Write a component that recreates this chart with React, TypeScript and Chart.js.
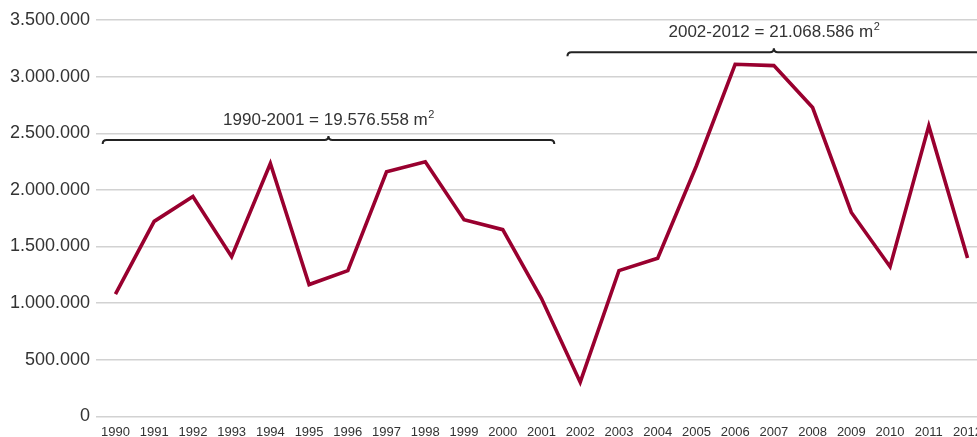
import React, { useEffect, useRef } from "react";
import { Chart, registerables } from "chart.js";

Chart.register(...registerables);

const years = ["1990","1991","1992","1993","1994","1995","1996","1997","1998","1999","2000","2001","2002","2003","2004","2005","2006","2007","2008","2009","2010","2011","2012"];
const area = [1080000,1722000,1942000,1410000,2233000,1164000,1287000,2160000,2248000,1737000,1649000,1040000,302000,1287000,1396000,2213000,3109000,3097000,2727000,1801000,1322000,2565000,1399000];
const yTicks = [0,500000,1000000,1500000,2000000,2500000,3000000,3500000];

const braceStart = ["1990", "2002"];
const braceEnd = ["2001", "2012"];
const braceLevel = [2440000, 3215000];
const braceText = ["1990-2001 = 19.576.558 m", "2002-2012 = 21.068.586 m"];

const fmt = (v: number) => String(v).replace(/\B(?=(\d{3})+(?!\d))/g, ".");

const FONT = "'Liberation Sans', Arial, sans-serif";

const bracePlugin = {
  id: "braces",
  afterDatasetsDraw(chart: any) {
    const ctx = chart.ctx;
    const xs = chart.scales.x;
    const ys = chart.scales.y;
    const half = (xs.getPixelForValue(1) - xs.getPixelForValue(0)) / 2;
    for (let i = 0; i < braceStart.length; i++) {
      const x1 = xs.getPixelForValue(years.indexOf(braceStart[i])) - half * 0.66;
      const x2 = xs.getPixelForValue(years.indexOf(braceEnd[i])) + half * 0.66;
      const y = ys.getPixelForValue(braceLevel[i]);
      const xm = (x1 + x2) / 2;
      const h = 4;
      const p = 4;
      ctx.save();
      ctx.strokeStyle = "#222";
      ctx.lineWidth = 2;
      ctx.beginPath();
      ctx.moveTo(x1, y + h);
      ctx.quadraticCurveTo(x1, y, x1 + h, y);
      ctx.lineTo(xm - p, y);
      ctx.quadraticCurveTo(xm, y, xm, y - p);
      ctx.quadraticCurveTo(xm, y, xm + p, y);
      ctx.lineTo(x2 - h, y);
      ctx.quadraticCurveTo(x2, y, x2, y + h);
      ctx.stroke();
      ctx.fillStyle = "#333";
      ctx.textBaseline = "alphabetic";
      const main = braceText[i];
      ctx.font = "17px " + FONT;
      const w1 = ctx.measureText(main).width;
      ctx.font = "11px " + FONT;
      const w2 = ctx.measureText("2").width;
      const tx = xm - (w1 + w2) / 2;
      const ty = y - 15;
      ctx.font = "17px " + FONT;
      ctx.textAlign = "left";
      ctx.fillText(main, tx, ty);
      ctx.font = "11px " + FONT;
      ctx.fillText("2", tx + w1 + 0.5, ty - 7);
      ctx.restore();
    }
  },
};

export default function App() {
  const ref = useRef<HTMLCanvasElement>(null);
  useEffect(() => {
    document.body.style.margin = "0";
    const chart = new Chart(ref.current!, {
      type: "line",
      data: {
        labels: years,
        datasets: [
          {
            data: area,
            borderColor: "#99002F",
            borderWidth: 3.6,
            pointRadius: 0,
            tension: 0,
            fill: false,
          },
        ],
      },
      options: {
        animation: false,
        responsive: false,
        layout: { padding: { left: 4, top: 20, right: 0, bottom: 0 } },
        plugins: { legend: { display: false }, tooltip: { enabled: false } },
        scales: {
          x: {
            offset: true,
            grid: { display: false, drawTicks: false },
            border: { display: false },
            ticks: {
              color: "#333",
              font: { size: 13, family: FONT },
              padding: 8,
              maxRotation: 0,
              autoSkip: false,
            },
          },
          y: {
            min: 0,
            max: 3500000,
            afterBuildTicks: (axis: any) => {
              axis.ticks = yTicks.map((v) => ({ value: v }));
            },
            grid: { color: "#d2d2d2", lineWidth: 1.5, drawTicks: false },
            border: { display: false },
            ticks: {
              color: "#333",
              font: { size: 18, family: FONT },
              padding: 6,
              callback: (v: any) => fmt(Number(v)),
            },
          },
        },
      },
      plugins: [bracePlugin],
    });
    return () => chart.destroy();
  }, []);
  return (
    <div style={{ position: "fixed", left: 0, top: 0, width: 977, height: 437, overflow: "hidden", background: "#fff" }}>
      <canvas ref={ref} width={990} height={448} style={{ width: 990, height: 448, display: "block" }} />
    </div>
  );
}
